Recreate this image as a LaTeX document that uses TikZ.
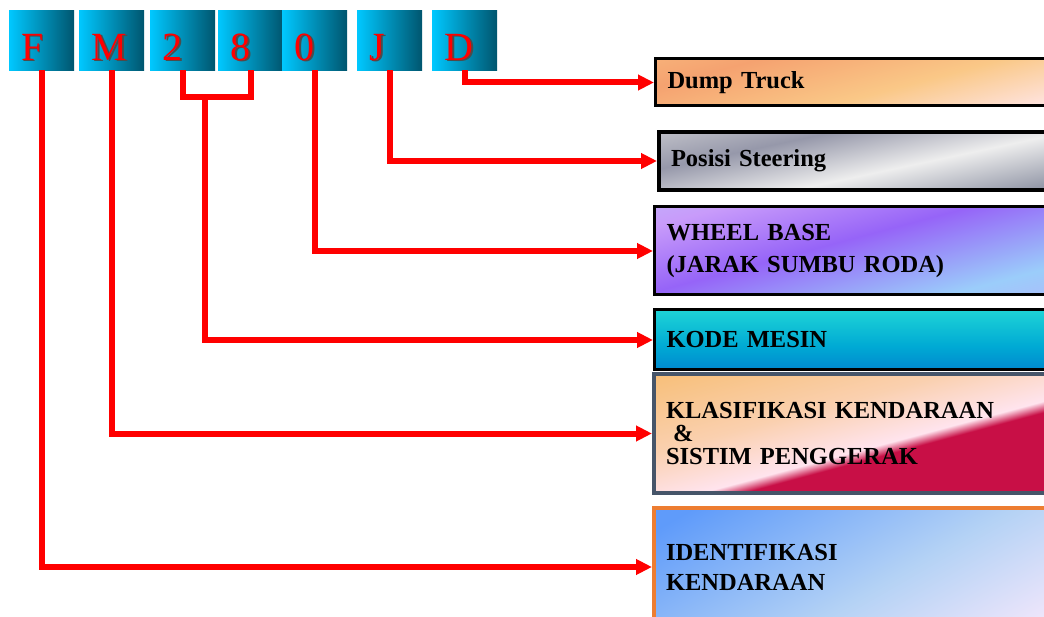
\documentclass[tikz,border=0pt]{standalone}
\usepackage{fontspec}
\setmainfont{Liberation Serif}
\usetikzlibrary{arrows.meta,positioning}

\definecolor{boxlight}{RGB}{0,200,255}
\definecolor{boxdark}{RGB}{0,85,110}
\definecolor{dumpA}{RGB}{248,198,145}
\definecolor{dumpB}{RGB}{245,162,112}
\definecolor{dumpC}{RGB}{250,200,135}
\definecolor{dumpD}{RGB}{255,232,238}
\definecolor{steerA}{RGB}{205,205,210}
\definecolor{steerB}{RGB}{135,140,158}
\definecolor{steerC}{RGB}{238,238,238}
\definecolor{steerD}{RGB}{150,152,170}
\definecolor{wheelA}{RGB}{200,155,250}
\definecolor{wheelB}{RGB}{155,205,250}
\definecolor{wheelC}{RGB}{150,100,248}
\definecolor{wheelD}{RGB}{185,205,250}
\definecolor{kodeA}{RGB}{0,95,200}
\definecolor{kodeB}{RGB}{0,170,212}
\definecolor{kodeC}{RGB}{35,218,215}
\definecolor{kodeD}{RGB}{18,205,190}
\definecolor{klasA}{RGB}{245,175,70}
\definecolor{klasB}{RGB}{250,208,175}
\definecolor{klasC}{RGB}{255,228,238}
\definecolor{klasD}{RGB}{200,15,70}
\definecolor{klasE}{RGB}{175,55,125}
\definecolor{klasF}{RGB}{240,155,80}
\definecolor{klasline}{RGB}{70,85,105}
\definecolor{idenA}{RGB}{95,155,250}
\definecolor{idenB}{RGB}{180,210,245}
\definecolor{idenC}{RGB}{245,232,252}
\definecolor{idenline}{RGB}{237,125,49}

\pgfdeclarehorizontalshading{dumpfill}{100bp}{color(0bp)=(dumpC); color(30bp)=(dumpB); color(55bp)=(dumpC); color(80bp)=(dumpD); color(100bp)=(dumpA)}
\pgfdeclareverticalshading{steerfill}{100bp}{color(0bp)=(steerA); color(22bp)=(steerB); color(45bp)=(steerC); color(65bp)=(steerD); color(85bp)=(steerA); color(100bp)=(steerB)}
\pgfdeclareverticalshading{wheelfill}{100bp}{color(0bp)=(wheelA); color(30bp)=(wheelB); color(55bp)=(wheelC); color(75bp)=(wheelA); color(100bp)=(wheelD)}
\pgfdeclareverticalshading{kodefill}{100bp}{color(0bp)=(kodeA); color(45bp)=(kodeB); color(80bp)=(kodeC); color(100bp)=(kodeD)}
\pgfdeclarehorizontalshading{klasfill}{100bp}{color(0bp)=(klasA); color(40bp)=(klasB); color(54bp)=(klasC); color(57bp)=(klasD); color(78bp)=(klasD); color(90bp)=(klasE); color(100bp)=(klasF)}
\pgfdeclarehorizontalshading{idenfill}{100bp}{color(0bp)=(idenA); color(20bp)=(idenA); color(55bp)=(idenB); color(82bp)=(idenC); color(100bp)=(idenC)}

\newcommand{\shd}[1]{\makebox[0pt][l]{\hspace{1.8pt}\raisebox{-1.8pt}{\color{black!70}#1}}{\color{red}#1}}

\begin{document}
\begin{tikzpicture}[x=1pt,y=-1pt,
  letterbox/.style={left color=boxlight, right color=boxdark, anchor=north west,
    minimum width=65pt, minimum height=60pt, text width=41pt, inner xsep=12pt,
    inner ysep=0pt, text height=50pt, text depth=10pt, align=left,
    font=\fontsize{40}{40}\selectfont},
  infobox/.style={draw=black, line width=3pt, anchor=west, text width=400pt,
    inner xsep=12pt, align=left, font=\bfseries\fontsize{24.5}{23}\selectfont},
  link/.style={red, line width=6pt},
  conn/.style={link, -{Triangle[length=16pt,width=15pt]}}]
\useasboundingbox (0,0) rectangle (1044,617);
\clip (0,0) rectangle (1044,617);

% Code letters
\node[letterbox] (bF) at (9,10) {\shd{F}};
\node[letterbox] (bM) at (79,10) {\shd{M}};
\node[letterbox] (b2) at (150,10) {\shd{2}};
\node[letterbox] (b8) at (218,10) {\shd{8}};
\node[letterbox] (b0) at (282,10) {\shd{0}};
\node[letterbox] (bJ) at (357,10) {\shd{J}};
\node[letterbox] (bD) at (432,10) {\shd{D}};

% Meanings
\node[infobox, shading=dumpfill, shading angle=-75, minimum height=47pt] (dump) at (654,82.5) {Dump Truck};
\node[infobox, shading=steerfill, shading angle=12, line width=4pt, minimum height=58pt] (steer) at (657,161) {Posisi Steering};
\node[infobox, shading=wheelfill, shading angle=15, minimum height=88pt,
  font=\bfseries\fontsize{24.5}{32}\selectfont] (wheel) at (653,251) {WHEEL BASE\\(JARAK SUMBU RODA)};
\node[infobox, shading=kodefill, minimum height=60pt] (kode) at (653,340) {KODE MESIN};
\node[infobox, shading=klasfill, shading angle=-75, draw=klasline, line width=4pt,
  minimum height=119pt] (klas) at (652,433.5) {KLASIFIKASI KENDARAAN\\\hspace{7pt}\&\\SISTIM PENGGERAK};
\node[infobox, shading=idenfill, shading angle=-60, draw=idenline, line width=4pt,
  minimum height=118pt, font=\bfseries\fontsize{24.5}{30}\selectfont] (iden) at (652,567) {IDENTIFIKASI\\KENDARAAN};

% Links
\coordinate (eng) at (205,97);
\draw[link] (b2.south) |- (eng) -| (b8.south);
\draw[conn] (bD.south) |- (dump.west);
\draw[conn] (bJ.south) |- (steer.west);
\draw[conn] (b0.south) |- (wheel.west);
\draw[conn] (eng) |- (kode.west);
\draw[conn] (bM.south) |- (klas.west);
\draw[conn] (bF.south) |- (iden.west);
\end{tikzpicture}
\end{document}
